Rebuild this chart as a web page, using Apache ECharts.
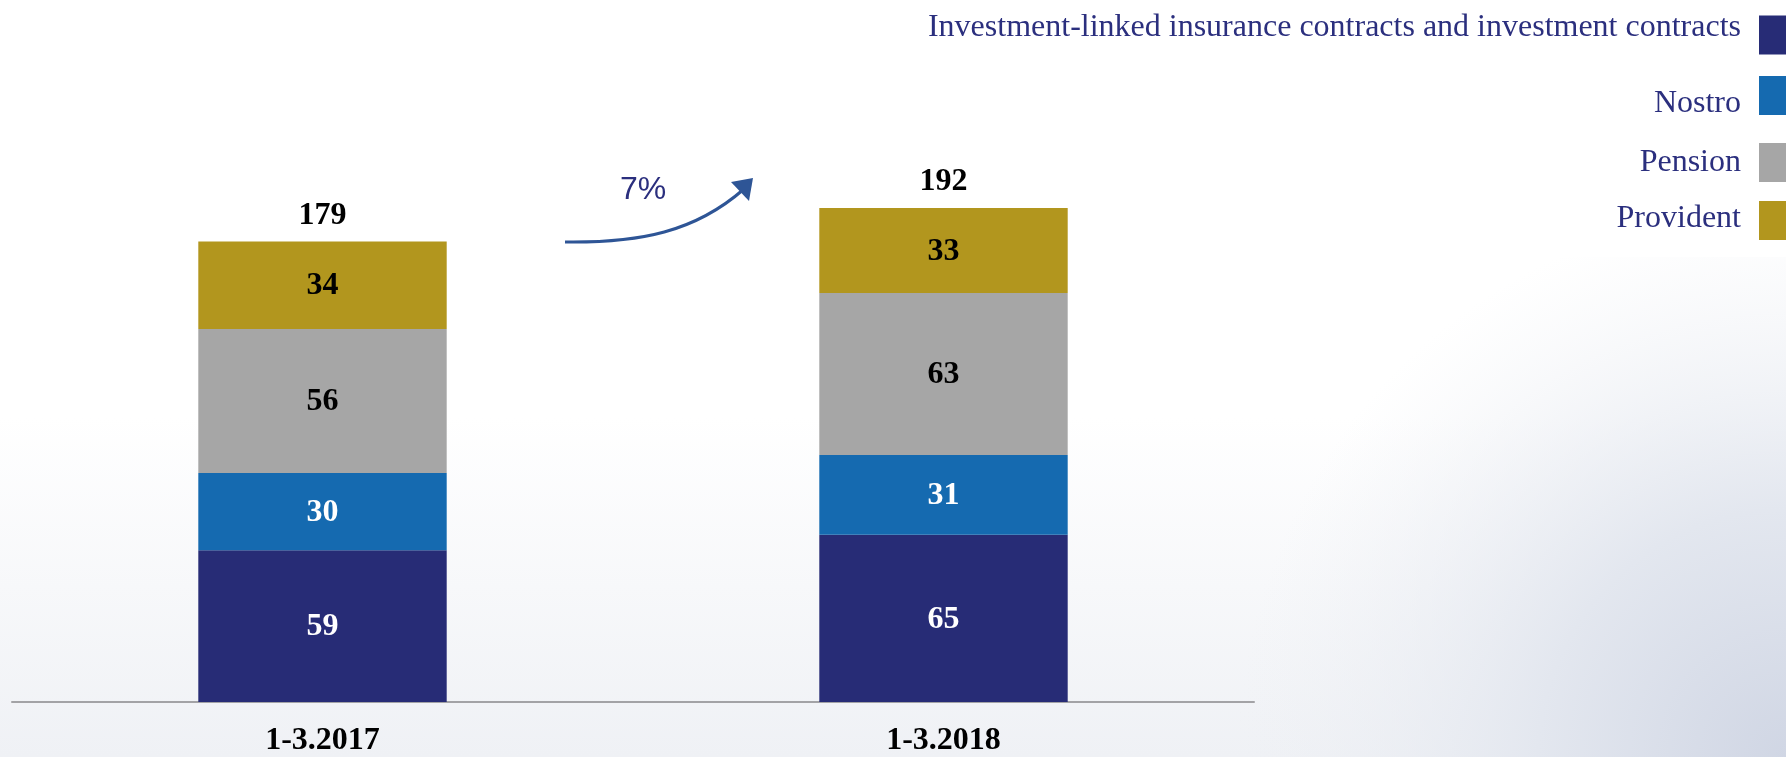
<!DOCTYPE html>
<html>
<head>
<meta charset="utf-8">
<script src="https://cdn.jsdelivr.net/npm/echarts@6/dist/echarts.min.js"></script>
<style>
  html, body { margin: 0; padding: 0; }
  #chart { width: 1786px; height: 757px; }
</style>
</head>
<body>
<div id="chart"></div>
<script>
// Periods on the category axis
const categories = ['1-3.2017', '1-3.2018'];

// Stacked components, bottom to top
const investmentLinked = [59, 65];
const nostro = [30, 31];
const pension = [56, 63];
const provident = [34, 33];

const seriesNames = [
  'Investment-linked insurance contracts and investment contracts',
  'Nostro',
  'Pension',
  'Provident'
];
const seriesColors = ['#272C76', '#156AB0', '#A6A6A6', '#B2961E'];
const labelColors = ['#FFFFFF', '#FFFFFF', '#000000', '#000000'];

const totals = categories.map((_, i) =>
  investmentLinked[i] + nostro[i] + pension[i] + provident[i]);
const growthPct = Math.round((totals[1] - totals[0]) / totals[0] * 100);

const serif = '"Liberation Serif", "Times New Roman", serif';
const navyText = '#2B2F7E';

const stackData = [investmentLinked, nostro, pension, provident];

const barSeries = stackData.map((values, k) => ({
  name: seriesNames[k],
  type: 'bar',
  stack: 'total',
  barWidth: '40%',
  data: values,
  itemStyle: { color: seriesColors[k] },
  label: {
    show: true,
    position: 'inside',
    offset: [0, 1],
    color: labelColors[k],
    fontFamily: serif,
    fontWeight: 'bold',
    fontSize: 32
  },
  emphasis: { disabled: true }
}));

// Invisible line carrying the total label above each stack
const totalSeries = {
  name: 'total',
  type: 'line',
  data: totals,
  symbol: 'circle',
  symbolSize: 2,
  showSymbol: true,
  itemStyle: { color: 'rgba(0,0,0,0)' },
  lineStyle: { opacity: 0 },
  label: {
    show: true,
    position: 'top',
    distance: 9,
    color: '#000',
    fontFamily: serif,
    fontWeight: 'bold',
    fontSize: 32
  },
  emphasis: { disabled: true },
  silent: true
};

// One legend block per series; each row's text sits a little above or
// below its swatch, done with a taller rich line and top/bottom alignment
const legendRows = [
  { top: 12, lineHeight: 46, vAlign: 'top' },
  { top: 76, lineHeight: 48, vAlign: 'bottom' },
  { top: 143, lineHeight: 32, vAlign: 'middle' },
  { top: 201, lineHeight: 36, vAlign: 'top' }
];
const legends = seriesNames.map((name, k) => ({
  data: [name],
  orient: 'vertical',
  right: 0,
  top: legendRows[k].top,
  padding: 0,
  align: 'right',
  itemWidth: 27,
  itemHeight: 39,
  icon: 'rect',
  selectedMode: false,
  formatter: n => '{t|' + n + '}',
  textStyle: {
    color: navyText,
    fontFamily: serif,
    fontSize: 32,
    padding: [0, 13, 0, 0],
    rich: {
      t: {
        color: navyText,
        fontFamily: serif,
        fontSize: 32,
        lineHeight: legendRows[k].lineHeight,
        verticalAlign: legendRows[k].vAlign
      }
    }
  }
}));

const chart = echarts.init(document.getElementById('chart'));
chart.setOption({
  animation: false,
  backgroundColor: {
    type: 'linear', x: 0, y: 0, x2: 0, y2: 1,
    colorStops: [
      { offset: 0, color: '#FFFFFF' },
      { offset: 0.55, color: '#FFFFFF' },
      { offset: 1, color: '#EFF1F5' }
    ]
  },
  grid: { left: 12, right: 532, top: 33, bottom: 53 },
  xAxis: {
    type: 'category',
    data: categories,
    axisLine: { lineStyle: { color: '#A3A3A6', width: 2 } },
    axisTick: { show: false },
    axisLabel: {
      margin: 23,
      color: '#000',
      fontFamily: serif,
      fontWeight: 'bold',
      fontSize: 32
    }
  },
  yAxis: {
    type: 'value',
    min: 0,
    max: 260,
    show: false,
    splitLine: { show: false }
  },
  legend: legends,
  graphic: [
    {
      // soft shading towards the lower right corner
      type: 'rect',
      z: -10,
      silent: true,
      shape: { x: 1036, y: 257, width: 750, height: 500 },
      style: {
        fill: {
          type: 'radial', x: 1, y: 1, r: 1.1,
          colorStops: [
            { offset: 0, color: '#D0D6E4' },
            { offset: 0.45, color: '#E3E7EF' },
            { offset: 1, color: 'rgba(239,241,245,0)' }
          ]
        }
      }
    },
    {
      type: 'bezierCurve',
      shape: { x1: 565, y1: 242, cpx1: 640, cpy1: 243, cpx2: 695, cpy2: 232, x2: 744, y2: 189 },
      style: { stroke: '#2E5596', lineWidth: 3, fill: null }
    },
    {
      type: 'polygon',
      shape: { points: [[753, 178], [731, 182], [749, 201]] },
      style: { fill: '#2E5596' }
    },
    {
      type: 'text',
      left: 620,
      top: 174,
      style: {
        text: growthPct + '%',
        fill: navyText,
        font: '32px "Liberation Sans", Arial, sans-serif'
      }
    }
  ],
  series: [...barSeries, totalSeries]
});
</script>
</body>
</html>
